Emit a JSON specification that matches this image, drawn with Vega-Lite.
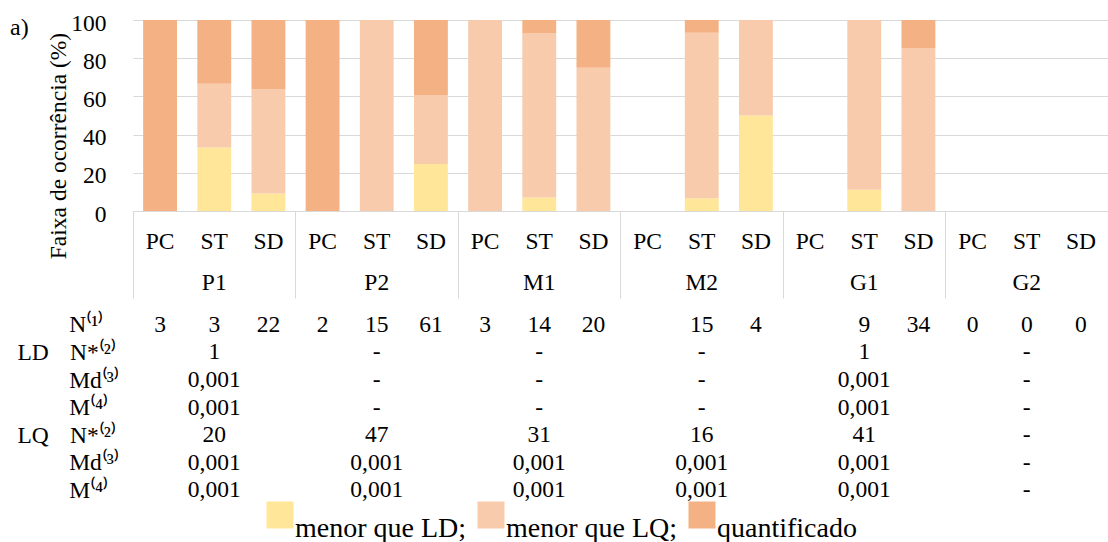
{
  "$schema": "https://vega.github.io/schema/vega-lite/v6.json",
  "padding": {"left": 10, "top": 11, "right": 0, "bottom": 0},
  "title": {"text": "a)", "anchor": "start", "frame": "bounds", "dx": -7, "offset": -47.5, "baseline": "alphabetic", "fontSize": 24, "font": "Liberation Serif", "fontWeight": "normal", "color": "#000"},
  "config": {
    "font": "Liberation Serif",
    "view": {"stroke": null},
    "axis": {"labelFont": "Liberation Serif", "titleFont": "Liberation Serif", "labelColor": "#000", "titleColor": "#000", "labelFontSize": 23.5, "titleFontSize": 23.5, "titleFontWeight": "normal"}
  },
  "bounds": "flush",
  "spacing": 31,
  "vconcat": [
    {
      "width": 975,
      "height": 191,
      "data": {"values": [
        {"key": "P1 PC", "cat": "quantificado", "pct": 100},
        {"key": "P1 ST", "cat": "menor que LD;", "pct": 33.3},
        {"key": "P1 ST", "cat": "menor que LQ;", "pct": 33.3},
        {"key": "P1 ST", "cat": "quantificado", "pct": 33.4},
        {"key": "P1 SD", "cat": "menor que LD;", "pct": 9.1},
        {"key": "P1 SD", "cat": "menor que LQ;", "pct": 54.5},
        {"key": "P1 SD", "cat": "quantificado", "pct": 36.4},
        {"key": "P2 PC", "cat": "quantificado", "pct": 100},
        {"key": "P2 ST", "cat": "menor que LQ;", "pct": 100},
        {"key": "P2 SD", "cat": "menor que LD;", "pct": 24.6},
        {"key": "P2 SD", "cat": "menor que LQ;", "pct": 36.1},
        {"key": "P2 SD", "cat": "quantificado", "pct": 39.3},
        {"key": "M1 PC", "cat": "menor que LQ;", "pct": 100},
        {"key": "M1 ST", "cat": "menor que LD;", "pct": 7.1},
        {"key": "M1 ST", "cat": "menor que LQ;", "pct": 85.8},
        {"key": "M1 ST", "cat": "quantificado", "pct": 7.1},
        {"key": "M1 SD", "cat": "menor que LQ;", "pct": 75},
        {"key": "M1 SD", "cat": "quantificado", "pct": 25},
        {"key": "M2 ST", "cat": "menor que LD;", "pct": 6.7},
        {"key": "M2 ST", "cat": "menor que LQ;", "pct": 86.6},
        {"key": "M2 ST", "cat": "quantificado", "pct": 6.7},
        {"key": "M2 SD", "cat": "menor que LD;", "pct": 50},
        {"key": "M2 SD", "cat": "menor que LQ;", "pct": 50},
        {"key": "G1 ST", "cat": "menor que LD;", "pct": 11.1},
        {"key": "G1 ST", "cat": "menor que LQ;", "pct": 88.9},
        {"key": "G1 SD", "cat": "menor que LQ;", "pct": 85.3},
        {"key": "G1 SD", "cat": "quantificado", "pct": 14.7}
      ]},
      "mark": {"type": "bar"},
      "encoding": {
        "x": {
          "field": "key", "type": "nominal",
          "scale": {"domain": ["P1 PC","P1 ST","P1 SD","P2 PC","P2 ST","P2 SD","M1 PC","M1 ST","M1 SD","M2 PC","M2 ST","M2 SD","G1 PC","G1 ST","G1 SD","G2 PC","G2 ST","G2 SD"], "paddingInner": 0.375, "paddingOuter": 0.1875},
          "axis": {"title": null, "labels": false, "values": ["P1 PC","P2 PC","M1 PC","M2 PC","G1 PC","G2 PC"], "bandPosition": 0, "tickOffset": -10.2, "tickSize": 87, "tickColor": "#d9d9d9", "domainColor": "#d9d9d9", "grid": false}
        },
        "y": {
          "field": "pct", "type": "quantitative", "stack": "zero",
          "scale": {"domain": [0, 100]},
          "axis": {"values": [0, 20, 40, 60, 80, 100], "title": "Faixa de ocorrência (%)", "domain": false, "ticks": false, "labelPadding": 27, "labelOffset": 3, "gridColor": "#d9d9d9", "titleX": -63, "titleY": 125.5}
        },
        "color": {
          "field": "cat", "type": "nominal",
          "scale": {"domain": ["menor que LD;", "menor que LQ;", "quantificado"], "range": ["#FFE699", "#F8CBAD", "#F4B183"]},
          "legend": {"orient": "none", "legendX": 133, "legendY": 481, "direction": "horizontal", "title": null, "symbolType": "square", "symbolSize": 729, "symbolStrokeWidth": 0, "symbolOpacity": 1, "labelFontSize": 28, "labelFont": "Liberation Serif", "labelColor": "#000", "labelOffset": 1, "columnPadding": 10, "labelBaseline": "top", "padding": 0, "labelLimit": 400}
        },
        "order": {"field": "cat", "sort": "ascending"}
      }
    },
    {
      "width": 975,
      "height": 248.4,
      "data": {"values": [
        {"row": "\u200b", "key": "P1 PC", "t": "PC"},
        {"row": "\u200b", "key": "P1 ST", "t": "ST"},
        {"row": "\u200b", "key": "P1 SD", "t": "SD"},
        {"row": "\u200b", "key": "P2 PC", "t": "PC"},
        {"row": "\u200b", "key": "P2 ST", "t": "ST"},
        {"row": "\u200b", "key": "P2 SD", "t": "SD"},
        {"row": "\u200b", "key": "M1 PC", "t": "PC"},
        {"row": "\u200b", "key": "M1 ST", "t": "ST"},
        {"row": "\u200b", "key": "M1 SD", "t": "SD"},
        {"row": "\u200b", "key": "M2 PC", "t": "PC"},
        {"row": "\u200b", "key": "M2 ST", "t": "ST"},
        {"row": "\u200b", "key": "M2 SD", "t": "SD"},
        {"row": "\u200b", "key": "G1 PC", "t": "PC"},
        {"row": "\u200b", "key": "G1 ST", "t": "ST"},
        {"row": "\u200b", "key": "G1 SD", "t": "SD"},
        {"row": "\u200b", "key": "G2 PC", "t": "PC"},
        {"row": "\u200b", "key": "G2 ST", "t": "ST"},
        {"row": "\u200b", "key": "G2 SD", "t": "SD"},
        {"row": "\u200b\u200b\u200b\u200b", "key": "P1 ST", "t": "P1"},
        {"row": "\u200b\u200b\u200b\u200b", "key": "P2 ST", "t": "P2"},
        {"row": "\u200b\u200b\u200b\u200b", "key": "M1 ST", "t": "M1"},
        {"row": "\u200b\u200b\u200b\u200b", "key": "M2 ST", "t": "M2"},
        {"row": "\u200b\u200b\u200b\u200b", "key": "G1 ST", "t": "G1"},
        {"row": "\u200b\u200b\u200b\u200b", "key": "G2 ST", "t": "G2"},
        {"row": "\u200b\u2003\u2003\u2009N⁽¹⁾", "key": "P1 PC", "t": "3"},
        {"row": "\u200b\u2003\u2003\u2009N⁽¹⁾", "key": "P1 ST", "t": "3"},
        {"row": "\u200b\u2003\u2003\u2009N⁽¹⁾", "key": "P1 SD", "t": "22"},
        {"row": "\u200b\u2003\u2003\u2009N⁽¹⁾", "key": "P2 PC", "t": "2"},
        {"row": "\u200b\u2003\u2003\u2009N⁽¹⁾", "key": "P2 ST", "t": "15"},
        {"row": "\u200b\u2003\u2003\u2009N⁽¹⁾", "key": "P2 SD", "t": "61"},
        {"row": "\u200b\u2003\u2003\u2009N⁽¹⁾", "key": "M1 PC", "t": "3"},
        {"row": "\u200b\u2003\u2003\u2009N⁽¹⁾", "key": "M1 ST", "t": "14"},
        {"row": "\u200b\u2003\u2003\u2009N⁽¹⁾", "key": "M1 SD", "t": "20"},
        {"row": "\u200b\u2003\u2003\u2009N⁽¹⁾", "key": "M2 ST", "t": "15"},
        {"row": "\u200b\u2003\u2003\u2009N⁽¹⁾", "key": "M2 SD", "t": "4"},
        {"row": "\u200b\u2003\u2003\u2009N⁽¹⁾", "key": "G1 ST", "t": "9"},
        {"row": "\u200b\u2003\u2003\u2009N⁽¹⁾", "key": "G1 SD", "t": "34"},
        {"row": "\u200b\u2003\u2003\u2009N⁽¹⁾", "key": "G2 PC", "t": "0"},
        {"row": "\u200b\u2003\u2003\u2009N⁽¹⁾", "key": "G2 ST", "t": "0"},
        {"row": "\u200b\u2003\u2003\u2009N⁽¹⁾", "key": "G2 SD", "t": "0"},
        {"row": "LD\u2002\u2009\u2009N*⁽²⁾", "key": "P1 ST", "t": "1"},
        {"row": "LD\u2002\u2009\u2009N*⁽²⁾", "key": "P2 ST", "t": "-"},
        {"row": "LD\u2002\u2009\u2009N*⁽²⁾", "key": "M1 ST", "t": "-"},
        {"row": "LD\u2002\u2009\u2009N*⁽²⁾", "key": "M2 ST", "t": "-"},
        {"row": "LD\u2002\u2009\u2009N*⁽²⁾", "key": "G1 ST", "t": "1"},
        {"row": "LD\u2002\u2009\u2009N*⁽²⁾", "key": "G2 ST", "t": "-"},
        {"row": "\u200b\u2003\u2003\u2009Md⁽³⁾", "key": "P1 ST", "t": "0,001"},
        {"row": "\u200b\u2003\u2003\u2009Md⁽³⁾", "key": "P2 ST", "t": "-"},
        {"row": "\u200b\u2003\u2003\u2009Md⁽³⁾", "key": "M1 ST", "t": "-"},
        {"row": "\u200b\u2003\u2003\u2009Md⁽³⁾", "key": "M2 ST", "t": "-"},
        {"row": "\u200b\u2003\u2003\u2009Md⁽³⁾", "key": "G1 ST", "t": "0,001"},
        {"row": "\u200b\u2003\u2003\u2009Md⁽³⁾", "key": "G2 ST", "t": "-"},
        {"row": "\u200b\u2003\u2003\u2009M⁽⁴⁾", "key": "P1 ST", "t": "0,001"},
        {"row": "\u200b\u2003\u2003\u2009M⁽⁴⁾", "key": "P2 ST", "t": "-"},
        {"row": "\u200b\u2003\u2003\u2009M⁽⁴⁾", "key": "M1 ST", "t": "-"},
        {"row": "\u200b\u2003\u2003\u2009M⁽⁴⁾", "key": "M2 ST", "t": "-"},
        {"row": "\u200b\u2003\u2003\u2009M⁽⁴⁾", "key": "G1 ST", "t": "0,001"},
        {"row": "\u200b\u2003\u2003\u2009M⁽⁴⁾", "key": "G2 ST", "t": "-"},
        {"row": "LQ\u2002\u2009\u2009N*⁽²⁾", "key": "P1 ST", "t": "20"},
        {"row": "LQ\u2002\u2009\u2009N*⁽²⁾", "key": "P2 ST", "t": "47"},
        {"row": "LQ\u2002\u2009\u2009N*⁽²⁾", "key": "M1 ST", "t": "31"},
        {"row": "LQ\u2002\u2009\u2009N*⁽²⁾", "key": "M2 ST", "t": "16"},
        {"row": "LQ\u2002\u2009\u2009N*⁽²⁾", "key": "G1 ST", "t": "41"},
        {"row": "LQ\u2002\u2009\u2009N*⁽²⁾", "key": "G2 ST", "t": "-"},
        {"row": "\u200b\u2003\u2003\u2009Md⁽³⁾\u200b", "key": "P1 ST", "t": "0,001"},
        {"row": "\u200b\u2003\u2003\u2009Md⁽³⁾\u200b", "key": "P2 ST", "t": "0,001"},
        {"row": "\u200b\u2003\u2003\u2009Md⁽³⁾\u200b", "key": "M1 ST", "t": "0,001"},
        {"row": "\u200b\u2003\u2003\u2009Md⁽³⁾\u200b", "key": "M2 ST", "t": "0,001"},
        {"row": "\u200b\u2003\u2003\u2009Md⁽³⁾\u200b", "key": "G1 ST", "t": "0,001"},
        {"row": "\u200b\u2003\u2003\u2009Md⁽³⁾\u200b", "key": "G2 ST", "t": "-"},
        {"row": "\u200b\u2003\u2003\u2009M⁽⁴⁾\u200b", "key": "P1 ST", "t": "0,001"},
        {"row": "\u200b\u2003\u2003\u2009M⁽⁴⁾\u200b", "key": "P2 ST", "t": "0,001"},
        {"row": "\u200b\u2003\u2003\u2009M⁽⁴⁾\u200b", "key": "M1 ST", "t": "0,001"},
        {"row": "\u200b\u2003\u2003\u2009M⁽⁴⁾\u200b", "key": "M2 ST", "t": "0,001"},
        {"row": "\u200b\u2003\u2003\u2009M⁽⁴⁾\u200b", "key": "G1 ST", "t": "0,001"},
        {"row": "\u200b\u2003\u2003\u2009M⁽⁴⁾\u200b", "key": "G2 ST", "t": "-"}
      ]},
      "mark": {"type": "text", "fontSize": 23.5, "baseline": "middle", "color": "#000", "font": "Liberation Serif"},
      "encoding": {
        "x": {"field": "key", "type": "nominal", "scale": {"type": "point", "padding": 0.5, "domain": ["P1 PC","P1 ST","P1 SD","P2 PC","P2 ST","P2 SD","M1 PC","M1 ST","M1 SD","M2 PC","M2 ST","M2 SD","G1 PC","G1 ST","G1 SD","G2 PC","G2 ST","G2 SD"]}, "axis": null},
        "y": {"field": "row", "type": "nominal",
          "scale": {"type": "point", "padding": 0, "domain": ["\u200b","\u200b\u200b","\u200b\u200b\u200b","\u200b\u200b\u200b\u200b","\u200b\u200b\u200b\u200b\u200b","\u200b\u200b\u200b\u200b\u200b\u200b","\u200b\u2003\u2003\u2009N⁽¹⁾","\u200b\u200b\u200b\u200b\u200b\u200b\u200b","LD\u2002\u2009\u2009N*⁽²⁾","\u200b\u200b\u200b\u200b\u200b\u200b\u200b\u200b","\u200b\u2003\u2003\u2009Md⁽³⁾","\u200b\u200b\u200b\u200b\u200b\u200b\u200b\u200b\u200b","\u200b\u2003\u2003\u2009M⁽⁴⁾","\u200b\u200b\u200b\u200b\u200b\u200b\u200b\u200b\u200b\u200b","LQ\u2002\u2009\u2009N*⁽²⁾","\u200b\u200b\u200b\u200b\u200b\u200b\u200b\u200b\u200b\u200b\u200b","\u200b\u2003\u2003\u2009Md⁽³⁾\u200b","\u200b\u200b\u200b\u200b\u200b\u200b\u200b\u200b\u200b\u200b\u200b\u200b","\u200b\u2003\u2003\u2009M⁽⁴⁾\u200b"]},
          "axis": {"orient": "left", "title": null, "values": ["\u200b\u2003\u2003\u2009N⁽¹⁾","LD\u2002\u2009\u2009N*⁽²⁾","\u200b\u2003\u2003\u2009Md⁽³⁾","\u200b\u2003\u2003\u2009M⁽⁴⁾","LQ\u2002\u2009\u2009N*⁽²⁾","\u200b\u2003\u2003\u2009Md⁽³⁾\u200b","\u200b\u2003\u2003\u2009M⁽⁴⁾\u200b"], "labelAlign": "left", "labelPadding": 116, "labelOverlap": false, "ticks": false, "domain": false, "grid": false}},
        "text": {"field": "t"}
      }
    }
  ]
}
